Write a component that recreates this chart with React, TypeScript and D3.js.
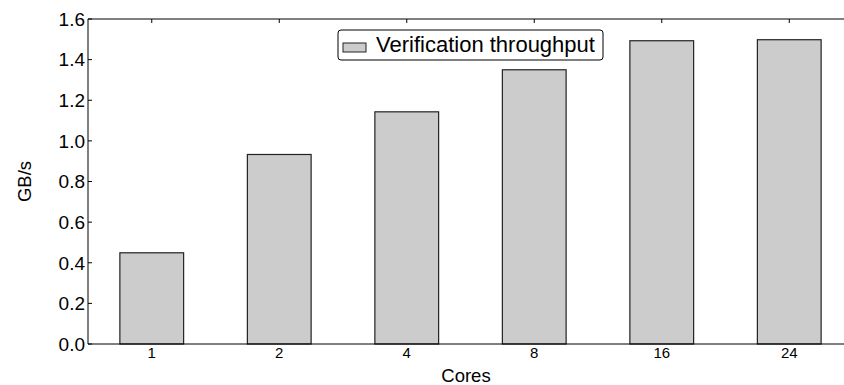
import React from "react";
import * as d3 from "d3";

const cores = ["1", "2", "4", "8", "16", "24"];
const throughput = [0.449, 0.933, 1.143, 1.35, 1.493, 1.498];
const yTicks = [0, 0.2, 0.4, 0.6, 0.8, 1.0, 1.2, 1.4, 1.6];
const seriesName = "Verification throughput";

const W = 844;
const H = 385;
const margin = { top: 19, right: -9, bottom: 41, left: 88 };
const font = "Liberation Sans, Arial, Helvetica, sans-serif";

export default function App() {
  const innerW = W - margin.left - margin.right;
  const innerH = H - margin.top - margin.bottom;

  const x = d3
    .scaleBand()
    .domain(cores)
    .range([0, innerW])
    .paddingInner(0.5)
    .paddingOuter(0.25);
  const y = d3.scaleLinear().domain([0, 1.6]).range([innerH, 0]);

  return (
    <svg
      width={W}
      height={H}
      style={{ position: "absolute", left: 0, top: 0, fontFamily: font }}
    >
      <rect width={W} height={H} fill="#fff" />
      <g transform={`translate(${margin.left},${margin.top})`}>
        {cores.map((c, i) => (
          <rect
            key={c}
            x={x(c)}
            y={y(throughput[i])}
            width={x.bandwidth()}
            height={innerH - y(throughput[i])}
            fill="#cccccc"
            stroke="#222"
            strokeWidth={1.2}
          />
        ))}
        {/* spines */}
        <line x1={0} x2={innerW} y1={0} y2={0} stroke="#000" strokeWidth={1} />
        <line x1={0} x2={innerW} y1={innerH} y2={innerH} stroke="#000" strokeWidth={1} />
        <line x1={0} x2={0} y1={0} y2={innerH} stroke="#000" strokeWidth={1} />
        {/* y ticks */}
        {yTicks.map((t) => (
          <g key={t} transform={`translate(0,${y(t)})`}>
            <line x1={0} x2={4} stroke="#000" />
            <text x={-3} dy="0.36em" textAnchor="end" fontSize={19} fill="#000">
              {t.toFixed(1)}
            </text>
          </g>
        ))}
        {/* x ticks */}
        {cores.map((c) => {
          const cx = (x(c) as number) + x.bandwidth() / 2;
          return (
            <g key={c}>
              <line x1={cx} x2={cx} y1={0} y2={4} stroke="#000" />
              <text x={cx} y={innerH + 14} textAnchor="middle" fontSize={15} fill="#000">
                {c}
              </text>
            </g>
          );
        })}
      </g>
      <text x={466} y={382} textAnchor="middle" fontSize={18.5} fill="#000">
        Cores
      </text>
      <text
        transform={`translate(31,${margin.top + (H - margin.top - margin.bottom) / 2}) rotate(-90)`}
        textAnchor="middle"
        fontSize={18.5}
        fill="#000"
      >
        GB/s
      </text>
      {/* legend */}
      <g transform="translate(338,30)">
        <rect width={265} height={30} rx={3} fill="#fff" stroke="#000" strokeWidth={1} />
        <rect x={5} y={13} width={23} height={9} fill="#cccccc" stroke="#222" strokeWidth={1} />
        <text x={38} y={22} fontSize={22} fill="#000">
          {seriesName}
        </text>
      </g>
    </svg>
  );
}
